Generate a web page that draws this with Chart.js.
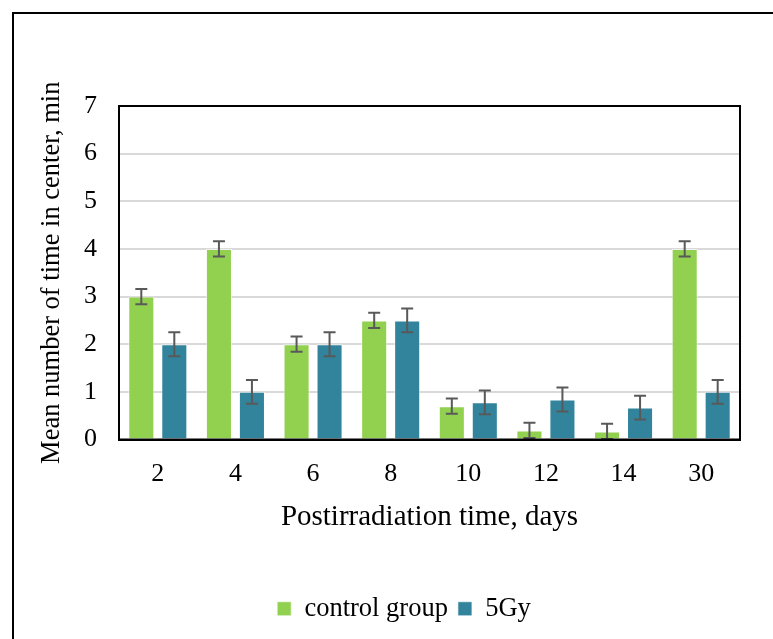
<!DOCTYPE html>
<html>
<head>
<meta charset="utf-8">
<script src="https://cdn.jsdelivr.net/npm/chart.js@4/dist/chart.umd.min.js"></script>
<style>
  html, body { margin: 0; padding: 0; background: #fff; overflow: hidden; }
  #wrap { position: relative; width: 773px; height: 639px; }
  #frame { position: absolute; left: 12px; top: 12px; width: 800px; height: 700px;
           border: 2px solid #000; box-sizing: border-box; pointer-events: none; }
  canvas { position: absolute; left: 0; top: 0; }
</style>
</head>
<body>
<div id="wrap">
  <canvas id="chart" width="773" height="639"></canvas>
  <div id="frame"></div>
</div>
<script>
// Postirradiation days (categories)
const days = ['2', '4', '6', '8', '10', '12', '14', '30'];
// Mean time in center, min
const controlGroup = [3, 4, 2, 2.5, 0.7, 0.19, 0.17, 4];
const gy5 = [2, 1, 2, 2.5, 0.78, 0.84, 0.67, 1];
// Error bar half-heights
const controlErr = [0.16, 0.16, 0.16, 0.16, 0.16, 0.16, 0.16, 0.16];
const gy5Err = [0.25, 0.25, 0.25, 0.25, 0.25, 0.25, 0.25, 0.25];
// Y axis ticks
const yTicks = [0, 1, 2, 3, 4, 5, 6, 7];

const FONT = "'Liberation Serif', 'Times New Roman', serif";
const errs = [controlErr, gy5Err];

const errorBars = {
  id: 'errorBars',
  afterDatasetsDraw(chart) {
    const ctx = chart.ctx;
    const y = chart.scales.y;
    ctx.save();
    ctx.strokeStyle = '#595959';
    ctx.lineWidth = 2;
    chart.data.datasets.forEach((ds, di) => {
      const meta = chart.getDatasetMeta(di);
      meta.data.forEach((bar, i) => {
        const v = ds.data[i], e = errs[di][i];
        const yt = y.getPixelForValue(v + e);
        const yb = y.getPixelForValue(Math.max(0, v - e));
        const x = bar.x;
        ctx.beginPath();
        ctx.moveTo(x, yt); ctx.lineTo(x, yb);
        ctx.moveTo(x - 6, yt); ctx.lineTo(x + 6, yt);
        ctx.moveTo(x - 6, yb); ctx.lineTo(x + 6, yb);
        ctx.stroke();
      });
    });
    ctx.restore();
  }
};

const plotBox = {
  id: 'plotBox',
  afterDraw(chart) {
    const a = chart.chartArea, ctx = chart.ctx;
    ctx.save();
    ctx.strokeStyle = '#000';
    ctx.lineWidth = 2;
    ctx.strokeRect(a.left, a.top, a.right - a.left, a.bottom - a.top);
    ctx.restore();
  }
};

// nudge the legend row a little to the right of center
const legendShift = {
  id: 'legendShift',
  afterLayout(chart) {
    chart.legend.left += 16;
    chart.legend.right += 16;
  }
};

new Chart(document.getElementById('chart'), {
  type: 'bar',
  data: {
    labels: days,
    datasets: [
      { label: 'control group', data: controlGroup, backgroundColor: '#92d050',
        borderColor: 'rgba(255,255,255,0.6)', borderWidth: 1 },
      { label: '5Gy', data: gy5, backgroundColor: '#31849b',
        borderColor: 'rgba(255,255,255,0.6)', borderWidth: 1 }
    ]
  },
  plugins: [errorBars, plotBox, legendShift],
  options: {
    responsive: false,
    animation: false,
    layout: { padding: { left: 36, top: 106, right: 33, bottom: 7 } },
    datasets: { bar: { categoryPercentage: 0.85, barPercentage: 0.79 } },
    plugins: {
      legend: {
        position: 'bottom',
        labels: {
          font: { family: FONT, size: 26.5 }, color: '#000',
          boxWidth: 14, boxHeight: 14, padding: 10
        }
      },
      tooltip: { enabled: false }
    },
    scales: {
      x: {
        grid: { display: false, drawTicks: false },
        border: { display: true, color: '#000', width: 2 },
        ticks: { font: { family: FONT, size: 26 }, color: '#000', padding: 19 },
        title: { display: true, text: 'Postirradiation time, days',
                 font: { family: FONT, size: 29 }, color: '#000', padding: { top: 8, bottom: 51 } },
        afterFit(s) { s.height = 146; }
      },
      y: {
        min: 0, max: 7,
        afterBuildTicks(s) { s.ticks = yTicks.map(v => ({ value: v })); },
        grid: { color: '#d9d9d9', lineWidth: 2, drawTicks: false },
        border: { display: true, color: '#000', width: 2 },
        ticks: { font: { family: FONT, size: 26 }, color: '#000', padding: 22 },
        title: { display: true, text: 'Mean number of time in center, min',
                 font: { family: FONT, size: 26.5 }, color: '#000', padding: 0 },
        afterFit(s) { s.width = 83; }
      }
    }
  }
});
</script>
</body>
</html>
